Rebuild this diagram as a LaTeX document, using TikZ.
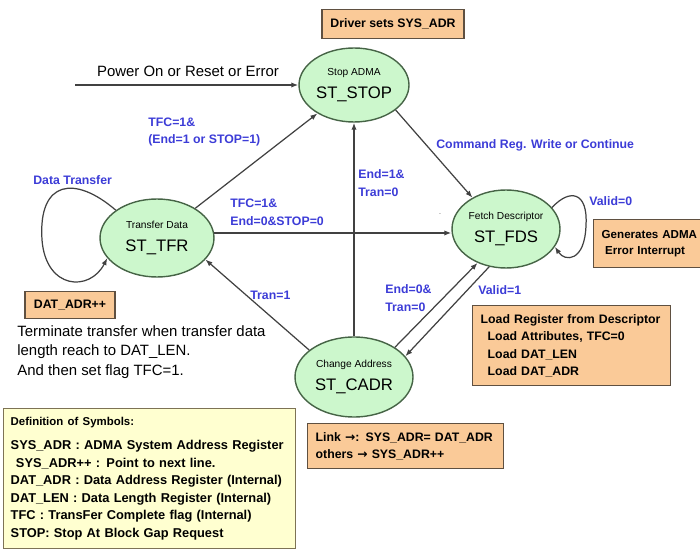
\documentclass[tikz,border=0pt]{standalone}
\usepackage{fontspec}
\setmainfont{Liberation Sans}
\newfontfamily\arrowfont{DejaVu Sans}
\usepackage{tikz}
\usetikzlibrary{arrows.meta,shapes.geometric}
\definecolor{stategreen}{RGB}{204,247,204}
\definecolor{stateedge}{RGB}{70,100,70}
\definecolor{actorange}{RGB}{250,202,152}
\definecolor{actedge}{RGB}{95,80,65}
\definecolor{defyellow}{RGB}{255,255,208}
\definecolor{defedge}{RGB}{125,115,85}
\definecolor{condblue}{RGB}{60,60,215}
\definecolor{wire}{RGB}{65,65,65}
\newcommand{\statelabel}[2]{{\fontsize{5.8}{7}\selectfont #1}\\[1pt]#2}
\newcommand{\goesto}{{\arrowfont\bfseries →}}

\begin{document}
\begin{tikzpicture}[x=0.02cm,y=-0.02cm,
    state/.style={ellipse,draw=stateedge,fill=stategreen,line width=0.8pt,
      inner sep=0pt,align=center,font=\fontsize{9.5}{12}\selectfont},
    edge/.style={-{Latex[length=4pt,width=3pt]},draw=wire,line width=0.7pt},
    cond/.style={text=condblue,font=\fontsize{7}{10}\selectfont\bfseries,
      align=left,anchor=west,inner sep=0pt},
    actbox/.style={draw=actedge,fill=actorange,line width=0.8pt,
      font=\fontsize{7}{10}\selectfont\bfseries},
    plain/.style={font=\fontsize{8.5}{11.3}\selectfont,align=left,inner sep=0pt}]
  \useasboundingbox (0,0) rectangle (700,550);

  % states
  \node[state,minimum width=2.2cm,minimum height=1.48cm] (stop) at (354,85)
    {\statelabel{Stop ADMA}{ST\_STOP}};
  \node[state,minimum width=2.28cm,minimum height=1.56cm] (tfr) at (157,238)
    {\statelabel{Transfer Data}{ST\_TFR}};
  \node[state,minimum width=2.16cm,minimum height=1.56cm] (fds) at (506,229)
    {\statelabel{Fetch Descriptor}{ST\_FDS}};
  \node[state,minimum width=2.36cm,minimum height=1.6cm] (cadr) at (354,377)
    {\statelabel{Change Address}{ST\_CADR}};

  % action boxes
  \node[actbox,minimum width=2.84cm,minimum height=0.58cm] (drvbox) at (393,24)
    {Driver sets SYS\_ADR};
  \node[actbox,minimum width=1.8cm,minimum height=0.54cm] (datbox) at (70,305)
    {DAT\_ADR++};
  \node[actbox,anchor=north west,text width=2.42cm,inner xsep=0.16cm,
    minimum height=0.96cm,align=left,font=\fontsize{6.6}{9}\selectfont\bfseries]
    (genbox) at (593,219)
    {Generates ADMA\\\hspace{2pt}Error Interrupt};
  \node[actbox,anchor=north west,text width=3.64cm,inner xsep=0.16cm,
    minimum height=1.6cm,align=left] (loadbox) at (472,305)
    {Load Register from Descriptor\\
     \hspace{4pt}Load Attributes, TFC=0\\
     \hspace{4pt}Load DAT\_LEN\\
     \hspace{4pt}Load DAT\_ADR};
  \node[actbox,anchor=north west,text width=3.6cm,inner xsep=0.16cm,
    minimum height=0.9cm,align=left] (linkbox) at (307,423)
    {Link \goesto: SYS\_ADR= DAT\_ADR\\others \goesto\ SYS\_ADR++};

  % definitions
  \node[draw=defedge,fill=defyellow,line width=0.8pt,anchor=north west,
    text width=5.56cm,inner xsep=0.14cm,minimum height=2.8cm,align=left,
    font=\fontsize{7.3}{10}\selectfont\bfseries] (defbox) at (3,408)
    {{\fontsize{6.5}{8}\selectfont Definition of Symbols:}\\[3.6pt]
     SYS\_ADR : ADMA System Address Register\\
     \hspace{3pt}SYS\_ADR++ : Point to next line.\\
     DAT\_ADR : Data Address Register (Internal)\\
     DAT\_LEN : Data Length Register (Internal)\\
     TFC : TransFer Complete flag (Internal)\\
     STOP: Stop At Block Gap Request};

  \node[plain,anchor=west] (termnote) at (17,352)
    {Terminate transfer when transfer data\\
     length reach to DAT\_LEN.\\
     And then set flag TFC=1.};
  \node[text=gray,font=\tiny,inner sep=0pt] (dot) at (440,214) {.};

  % transitions
  \coordinate (pwr) at (75,85);
  \draw[edge] (pwr) -- (stop);
  \node[plain] (pwrlbl) at (188,71) {Power On or Reset or Error};

  \draw[edge] (tfr) -- (stop);
  \node[cond] (c1) at (148,132) {TFC=1\&\\(End=1 or STOP=1)};

  \draw[edge] (stop.-31) -- (fds.137);
  \node[cond] (c2) at (436,145) {Command Reg. Write or Continue};

  \draw[edge] (cadr.north) -- (stop.south);
  \node[cond] (c3) at (358,183) {End=1\&\\Tran=0};

  \draw[edge] (tfr.5) -- (tfr.5 -| fds.west);
  \node[cond] (c4) at (230,212) {TFC=1\&\\End=0\&STOP=0};

  \draw[edge] (cadr.149) -- (tfr.-24);
  \node[cond] (c5) at (250,295) {Tran=1};

  \draw[edge] (cadr.36) -- (fds.230);
  \node[cond] (c6) at (385,298) {End=0\&\\Tran=0};

  \draw[edge] (fds.246) -- (cadr.22);
  \node[cond] (c7) at (478,290) {Valid=1};

  % self loops
  \draw[edge] (tfr.146) .. controls (75,175) and (38,180) .. (42,240)
    .. controls (46,290) and (90,292) .. (tfr.202);
  \node[cond] (c8) at (33,180) {Data Transfer};

  \draw[edge] (fds.25) .. controls (570,188) and (588,192) .. (586,225)
    .. controls (585,262) and (565,262) .. (fds.-20);
  \node[cond] (c9) at (589,201) {Valid=0};
\end{tikzpicture}
\end{document}
